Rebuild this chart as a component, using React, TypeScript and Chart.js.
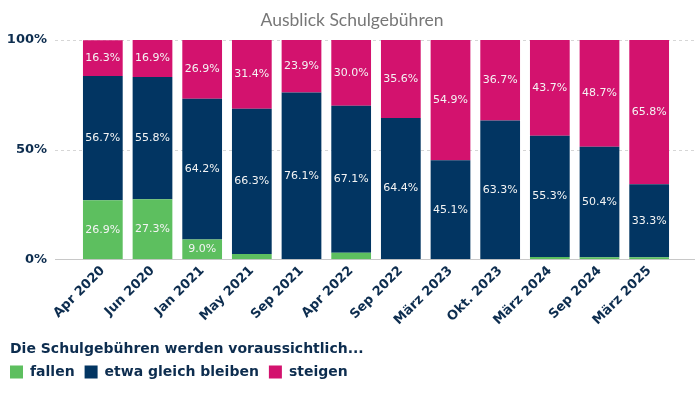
import React, { useEffect, useRef } from "react";
import { Chart, registerables } from "chart.js";

Chart.register(...registerables);

const categories = ["Apr 2020", "Jun 2020", "Jan 2021", "May 2021", "Sep 2021", "Apr 2022", "Sep 2022", "März 2023", "Okt. 2023", "März 2024", "Sep 2024", "März 2025"];
const fallen = [26.9, 27.3, 9.0, 2.3, 0, 2.9, 0, 0, 0, 1.0, 0.9, 0.9];
const gleich = [56.7, 55.8, 64.2, 66.3, 76.1, 67.1, 64.4, 45.1, 63.3, 55.3, 50.4, 33.3];
const steigen = [16.3, 16.9, 26.9, 31.4, 23.9, 30.0, 35.6, 54.9, 36.7, 43.7, 48.7, 65.8];
const yTicks = [0, 50, 100];

const chartTitle = "Ausblick Schulgebühren";
const legendTitle = "Die Schulgebühren werden voraussichtlich...";
const seriesNames = ["fallen", "etwa gleich bleiben", "steigen"];

const GREEN = "#5dbf5f";
const NAVY = "#023562";
const MAGENTA = "#d3126e";
const TEXT_NAVY = "#0d2d4f";
const FONT = "'DejaVu Sans', sans-serif";

const gridPlugin = {
  id: "customGrid",
  beforeDatasetsDraw(chart: any) {
    const { ctx, chartArea, scales } = chart;
    const y = scales.y;
    ctx.save();
    for (const v of yTicks) {
      const py = Math.round(y.getPixelForValue(v)) + 0.5;
      ctx.beginPath();
      ctx.strokeStyle = v === 0 ? "#c8c8c8" : "#d6d6d6";
      ctx.lineWidth = 1;
      ctx.setLineDash(v === 0 ? [] : [3, 3]);
      ctx.moveTo(chartArea.left - 23, py);
      ctx.lineTo(chartArea.right + 21, py);
      ctx.stroke();
    }
    ctx.restore();
  },
};

const labelPlugin = {
  id: "barLabels",
  afterDatasetsDraw(chart: any) {
    const { ctx } = chart;
    ctx.save();
    ctx.font = `11px ${FONT}`;
    ctx.fillStyle = "#f4f4f4";
    ctx.textAlign = "center";
    ctx.textBaseline = "middle";
    chart.data.datasets.forEach((ds: any, di: number) => {
      const meta = chart.getDatasetMeta(di);
      meta.data.forEach((bar: any, i: number) => {
        const v = ds.data[i];
        if (v < 5) return;
        const cy = (bar.y + bar.base) / 2;
        ctx.fillText(v.toFixed(1) + "%", bar.x, cy);
      });
    });
    ctx.restore();
  },
};

const textPlugin = {
  id: "titlesDraw",
  afterDraw(chart: any) {
    const { ctx } = chart;
    ctx.save();
    const t = chart.titleBlock;
    if (t) {
      ctx.font = `17.5px Lato, sans-serif`;
      ctx.fillStyle = "#777777";
      ctx.textAlign = "center";
      ctx.textBaseline = "middle";
      ctx.fillText(chartTitle, 352, t.top + 10 + 10.5);
    }
    const lg = chart.legend;
    if (lg && lg.legendHitBoxes && lg.legendHitBoxes.length) {
      const hb = lg.legendHitBoxes[0];
      ctx.font = `bold 14px ${FONT}`;
      ctx.fillStyle = TEXT_NAVY;
      ctx.textAlign = "left";
      ctx.textBaseline = "middle";
      ctx.fillText(legendTitle, 10, hb.top + hb.height / 2 - 23);
    }
    ctx.restore();
  },
};

export default function App() {
  const ref = useRef<HTMLCanvasElement | null>(null);
  useEffect(() => {
    document.body.style.margin = "0";
    const chart = new Chart(ref.current as HTMLCanvasElement, {
      type: "bar",
      data: {
        labels: categories,
        datasets: [
          { label: seriesNames[0], data: fallen, backgroundColor: GREEN, borderWidth: 0 },
          { label: seriesNames[1], data: gleich, backgroundColor: NAVY, borderWidth: 0 },
          { label: seriesNames[2], data: steigen, backgroundColor: MAGENTA, borderWidth: 0 },
        ],
      },
      options: {
        animation: false,
        responsive: false,
        maintainAspectRatio: false,
        layout: { padding: { left: 0, right: 26, top: 0, bottom: 5 } },
        datasets: { bar: { barPercentage: 0.8, categoryPercentage: 1 } },
        scales: {
          x: {
            stacked: true,
            grid: { display: false, drawTicks: false },
            border: { display: false },
            ticks: {
              color: TEXT_NAVY,
              font: { family: FONT, size: 13, weight: "bold" },
              minRotation: 45,
              maxRotation: 45,
              autoSkip: false,
              padding: 4,
            },
          },
          y: {
            stacked: true,
            min: 0,
            max: 100,
            grid: { display: false, drawTicks: false },
            border: { display: false },
            afterBuildTicks(axis: any) {
              axis.ticks = yTicks.map((v) => ({ value: v }));
            },
            afterFit(axis: any) {
              axis.width = 78;
            },
            ticks: {
              color: TEXT_NAVY,
              font: { family: FONT, size: 13, weight: "bold" },
              padding: 31,
              callback: (v: any) => v + "%",
            },
          },
        },
        plugins: {
          title: {
            display: true,
            text: chartTitle,
            color: "rgba(0,0,0,0)",
            font: { family: "Lato, sans-serif", size: 17.5, weight: "normal" },
            padding: { top: 10, bottom: 9 },
          },
          legend: {
            position: "bottom",
            align: "start",
            title: {
              display: true,
              text: " ",
              color: "rgba(0,0,0,0)",
              font: { family: FONT, size: 14, weight: "bold" },
              padding: { top: 6, bottom: 0 },
            },
            labels: {
              color: TEXT_NAVY,
              font: { family: FONT, size: 14, weight: "bold" },
              boxWidth: 13,
              boxHeight: 13,
              padding: 10,
            },
          },
          tooltip: { enabled: false },
        },
      },
      plugins: [gridPlugin, labelPlugin, textPlugin],
    } as any);
    return () => chart.destroy();
  }, []);
  return (
    <div style={{ width: 700, height: 394 }}>
      <canvas ref={ref} width={700} height={394} style={{ display: "block" }} />
    </div>
  );
}
